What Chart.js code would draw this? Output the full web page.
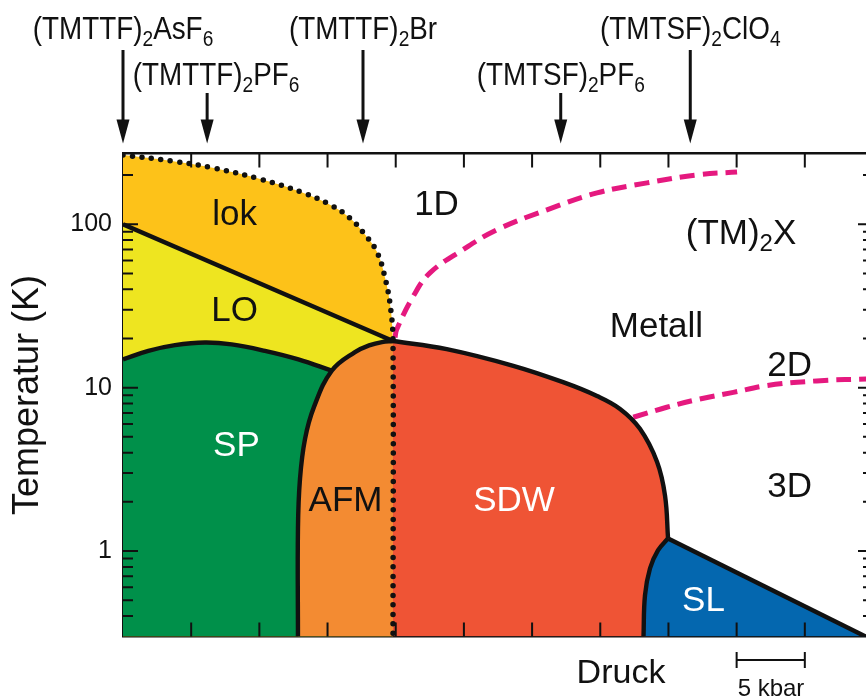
<!DOCTYPE html>
<html>
<head>
<meta charset="utf-8">
<style>
  html, body { margin: 0; padding: 0; background: #fff; overflow: hidden; }
  #wrap { width: 880px; height: 697px; }
</style>
<script src="https://cdn.jsdelivr.net/npm/chart.js@4.4.1/dist/chart.umd.min.js"></script>
</head>
<body>
<div id="wrap"><canvas id="phase" width="880" height="697"></canvas></div>
<script>
// Generic phase diagram of the Bechgaard/Fabre salts (TM)2X.
// Each boundary is a list of [pressure in kbar, temperature in K].

// onset of charge localisation (dotted, continues straight down to 0 K)
const lokOnset = [[0, 265], [3.57, 244], [6.75, 220], [10.17, 188], [13.1, 157], [15.31, 130],
                  [16.65, 109], [17.62, 89], [18.61, 68], [19.27, 45], [19.65, 29.4], [19.8, 19.3]];
// charge-ordering transition
const loBoundary = [[0, 100], [19.8, 19.3]];
// spin-Peierls transition
const spBoundary = [[0, 14.9], [1.86, 16.8], [3.81, 18.2], [6.01, 18.9], [7.97, 18.4],
                    [10.41, 16.8], [12.86, 14.9], [15.31, 12.7]];
// antiferromagnet boundary
const afmBoundary = [[12.83, 0.3], [12.83, 1.37], [12.98, 2.77], [13.35, 4.86], [14.0, 7.6],
                     [15.31, 12.7], [17.01, 16.5], [18.11, 18.2], [18.99, 19.0], [19.8, 19.3]];
// spin-density-wave boundary
const sdwBoundary = [[19.8, 19.3], [23.74, 17.2], [28.62, 13.6], [32.27, 10.8], [34.76, 8.89],
                     [36.45, 7.41], [37.91, 5.6], [39.16, 3.52], [39.75, 2.18], [39.97, 1.195]];
// superconductor: lower-pressure side and upper critical line
const slLower = [[38.17, 0.3], [38.28, 0.537], [38.65, 0.785], [39.23, 1.01], [39.97, 1.195]];
const slUpper = [[39.97, 1.195], [54.45, 0.3]];
// dimensional crossovers 1D -> 2D and 2D -> 3D
const cross1D = [[19.95, 20.3], [20.07, 22.7], [21.29, 36.3], [22.51, 50.4], [24.93, 69.9],
                 [27.43, 92.6], [31.09, 122.6], [34.76, 155.6], [38.43, 179.1], [42.09, 200.5], [45.03, 208.9]];
const cross2D = [[37.42, 6.59], [39.87, 7.59], [42.31, 8.53], [44.76, 9.36], [47.21, 10.3],
                 [50.87, 11.0], [55, 11.35]];

// compounds and their position on the pressure axis
const compounds = ['(TMTTF)_2AsF_6', '(TMTTF)_2PF_6', '(TMTTF)_2Br', '(TMTSF)_2PF_6', '(TMTSF)_2ClO_4'];
const compoundPressure = [0, 6.17, 17.6, 32.1, 41.6];

// tick positions
const pressureTicks = [5, 10, 15, 20, 25, 30, 35, 40, 45, 50];
const temperatureLabels = [1, 10, 100];
const scaleBar = [45, 50];   // 5 kbar

// axis ranges
const pMin = 0, pMax = 55, tMin = 0.308, tMax = 271;

// phase names placed at [pressure, temperature] (text baseline)
const phaseNames = [
  ['lok', 8.18, 99.3, '#111'], ['LO', 8.18, 25.5, '#111'], ['SP', 8.32, 3.83, '#fff'],
  ['AFM', 16.32, 1.77, '#111'], ['SDW', 28.67, 1.77, '#fff'], ['SL', 42.57, 0.43, '#fff'],
  ['1D', 22.99, 114, '#111'], ['(TM)_2X', 45.32, 75.4, '#111'], ['Metall', 39.12, 20.3, '#111'],
  ['2D', 48.88, 11.8, '#111'], ['3D', 48.88, 2.15, '#111']
];

const FONT = '"Liberation Sans", Arial, Helvetica, sans-serif';
const COL = { lok: '#FDC219', lo: '#EEE520', sp: '#00904A', afm: '#F38B32', sdw: '#EF5435',
              sl: '#0467AF', pink: '#E5197F', ink: '#111' };

const pts = arr => arr.map(([x, y]) => ({ x, y }));

function fillSet(data, color, order, tension) {
  return { data: pts(data), fill: 'start', backgroundColor: color, borderWidth: 0,
           pointRadius: 0, tension, order };
}
function lineSet(data, color, order, tension, width, dash, cap) {
  return { data: pts(data), fill: false, borderColor: color, borderWidth: width,
           borderDash: dash || [], borderCapStyle: cap || 'butt', borderJoinStyle: 'round',
           pointRadius: 0, tension, order };
}

// text with single-character subscripts marked by "_"
function parseRich(s) {
  const out = []; let buf = '';
  for (let i = 0; i < s.length; i++) {
    if (s[i] === '_') { if (buf) out.push([buf, false]); buf = ''; out.push([s[i + 1], true]); i++; }
    else buf += s[i];
  }
  if (buf) out.push([buf, false]);
  return out;
}
function richWidth(ctx, parts, size, subSize) {
  let w = 0;
  for (const [t, sub] of parts) { ctx.font = `${sub ? subSize : size}px ${FONT}`; w += ctx.measureText(t).width; }
  return w;
}
function drawRich(ctx, text, cx, y, size, subSize, drop, sx, color) {
  const parts = parseRich(text);
  ctx.save();
  ctx.fillStyle = color;
  ctx.textBaseline = 'alphabetic';
  ctx.textAlign = 'left';
  const w = richWidth(ctx, parts, size, subSize) * sx;
  ctx.translate(cx - w / 2, y);
  ctx.scale(sx, 1);
  let x = 0;
  for (const [t, sub] of parts) {
    ctx.font = `${sub ? subSize : size}px ${FONT}`;
    ctx.fillText(t, x, sub ? drop : 0);
    x += ctx.measureText(t).width;
  }
  ctx.restore();
}

// inward tick marks on all four sides
const innerTicks = {
  id: 'innerTicks',
  afterDatasetsDraw(chart) {
    const { ctx, chartArea: a, scales: { x, y } } = chart;
    ctx.save();
    ctx.strokeStyle = COL.ink; ctx.lineWidth = 2;
    ctx.beginPath();
    for (const p of pressureTicks) {
      const px = x.getPixelForValue(p);
      ctx.moveTo(px, a.bottom); ctx.lineTo(px, a.bottom - 14);
      ctx.moveTo(px, a.top); ctx.lineTo(px, a.top + 14);
    }
    for (let e = -1; e <= 2; e++) {
      for (let m = 1; m <= 9; m++) {
        const v = m * Math.pow(10, e);
        if (v < tMin || v > tMax) continue;
        const py = y.getPixelForValue(v);
        const len = m === 1 ? 15 : 10;
        ctx.moveTo(a.left, py); ctx.lineTo(a.left + len, py);
        ctx.moveTo(a.right, py); ctx.lineTo(a.right - len, py);
      }
    }
    ctx.stroke();
    ctx.restore();
  }
};

// phase names inside the diagram
const phaseLabels = {
  id: 'phaseLabels',
  afterDatasetsDraw(chart) {
    const { ctx, scales: { x, y } } = chart;
    for (const [t, p, T, c] of phaseNames) {
      drawRich(ctx, t, x.getPixelForValue(p), y.getPixelForValue(T), 35, 24, 7, 1, c);
    }
  }
};

// compound arrows, pressure label and scale bar
const annotations = {
  id: 'annotations',
  afterDraw(chart) {
    const { ctx, chartArea: a, scales: { x } } = chart;
    const rowBase = [38.5, 85], rowTop = [50, 93], dx = [0, 9, 0, 0, 0];
    ctx.save();
    compounds.forEach((name, i) => {
      const row = i % 2;
      const ax = x.getPixelForValue(compoundPressure[i]);
      drawRich(ctx, name, ax + dx[i], rowBase[row], 32, 22, 7, 0.87, COL.ink);
      const tip = a.top - 10;
      ctx.strokeStyle = COL.ink; ctx.fillStyle = COL.ink; ctx.lineWidth = 3;
      ctx.beginPath(); ctx.moveTo(ax, rowTop[row]); ctx.lineTo(ax, tip - 20); ctx.stroke();
      ctx.beginPath(); ctx.moveTo(ax, tip); ctx.lineTo(ax - 6.5, tip - 24); ctx.lineTo(ax + 6.5, tip - 24);
      ctx.closePath(); ctx.fill();
    });
    // pressure label
    ctx.fillStyle = COL.ink;
    ctx.font = `34px ${FONT}`;
    ctx.textAlign = 'center'; ctx.textBaseline = 'alphabetic';
    ctx.fillText('Druck', 621, 683);
    // 5 kbar scale bar
    const x0 = x.getPixelForValue(scaleBar[0]), x1 = x.getPixelForValue(scaleBar[1]);
    ctx.strokeStyle = COL.ink; ctx.lineWidth = 2;
    ctx.beginPath();
    ctx.moveTo(x0, 660); ctx.lineTo(x1, 660);
    ctx.moveTo(x0, 652); ctx.lineTo(x0, 668);
    ctx.moveTo(x1, 652); ctx.lineTo(x1, 668);
    ctx.stroke();
    ctx.font = `24px ${FONT}`;
    ctx.textAlign = 'left';
    ctx.fillText('5 kbar', x0 + 1, 696);
    ctx.restore();
  }
};

const flatAxis = (pos) => ({
  type: 'linear', min: pMin, max: pMax, position: pos, z: 1,
  grid: { display: false, drawTicks: false },
  ticks: { display: false },
  border: { display: true, color: COL.ink, width: 2.5 },
  afterFit(s) { s.height = 0; }
});

new Chart(document.getElementById('phase'), {
  type: 'line',
  data: {
    datasets: [
      fillSet(lokOnset, COL.lok, 30, 0.4),
      fillSet(loBoundary, COL.lo, 29, 0),
      fillSet(spBoundary, COL.sp, 28, 0.4),
      fillSet(afmBoundary, COL.afm, 27, 0.4),
      fillSet(sdwBoundary, COL.sdw, 26, 0.4),
      fillSet(slLower.concat(slUpper.slice(1)), COL.sl, 25, 0),
      lineSet(cross1D, COL.pink, 12, 0.4, 5, [15, 8]),
      lineSet(cross2D, COL.pink, 12, 0.4, 5, [15, 8]),
      lineSet(loBoundary, COL.ink, 8, 0, 4.4),
      lineSet(spBoundary, COL.ink, 8, 0.4, 4.4),
      lineSet(afmBoundary, COL.ink, 8, 0.4, 4.4),
      lineSet(sdwBoundary, COL.ink, 8, 0.4, 4.4),
      lineSet(slLower, COL.ink, 8, 0.4, 4.4),
      lineSet(slUpper, COL.ink, 8, 0, 4.4),
      lineSet(lokOnset.concat([[lokOnset[lokOnset.length - 1][0], 0.3]]), COL.ink, 2, 0.4, 5.5, [0, 9.5], 'round')
    ]
  },
  options: {
    responsive: false,
    animation: false,
    devicePixelRatio: 1,
    layout: { padding: { left: 0, right: 7, top: 153.5, bottom: 60.5 } },
    plugins: { legend: { display: false }, tooltip: { enabled: false } },
    scales: {
      x: flatAxis('bottom'),
      xTop: flatAxis('top'),
      y: {
        type: 'logarithmic', min: tMin, max: tMax, position: 'left', z: 1,
        grid: { display: false, drawTicks: false },
        border: { display: true, color: COL.ink, width: 2.5 },
        ticks: {
          autoSkip: false, maxRotation: 0, padding: 11, color: COL.ink,
          font: { size: 25, family: FONT },
          callback: v => temperatureLabels.some(t => Math.abs(t - v) < 1e-9) ? String(v) : ''
        },
        title: { display: true, text: 'Temperatur (K)', color: COL.ink,
                 font: { size: 36, family: FONT }, padding: { top: 6, bottom: 0 } },
        afterFit(s) { s.width = 123; }
      },
      yRight: {
        type: 'logarithmic', min: tMin, max: tMax, position: 'right', z: 1,
        grid: { display: false, drawTicks: false },
        ticks: { display: false },
        border: { display: true, color: COL.ink, width: 2.5 },
        afterFit(s) { s.width = 0; }
      }
    }
  },
  plugins: [innerTicks, phaseLabels, annotations]
});
</script>
</body>
</html>
